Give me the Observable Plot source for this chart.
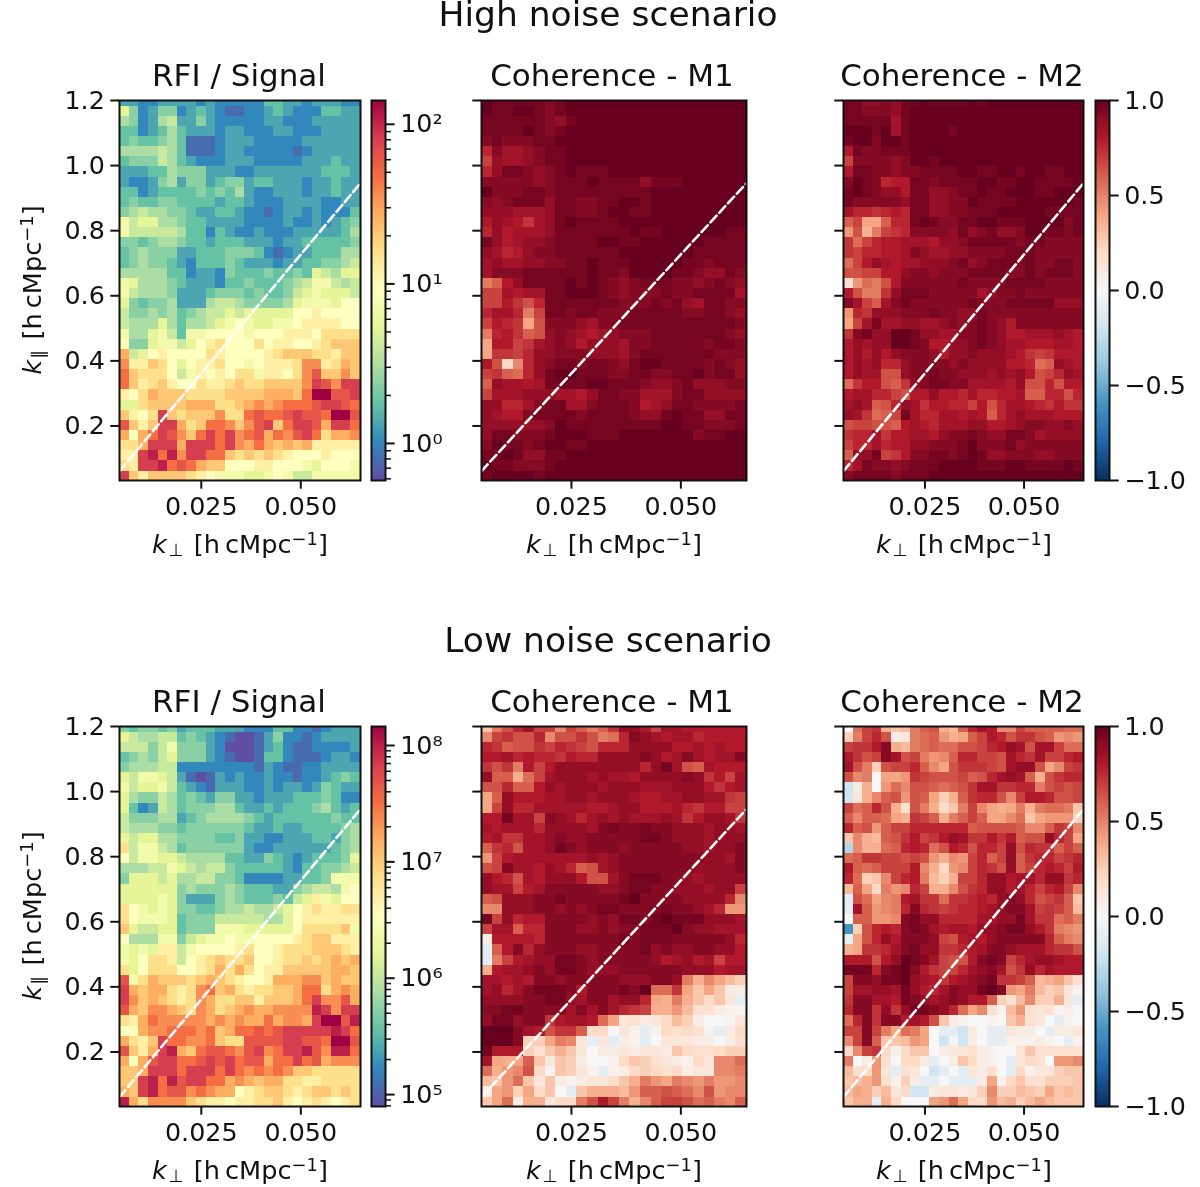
<!DOCTYPE html>
<html><head><meta charset="utf-8">
<style>
html,body{margin:0;padding:0;background:#fff;}
#page{position:relative;width:1200px;height:1187px;overflow:hidden;font-family:"DejaVu Sans",sans-serif;color:#111;filter:blur(0.65px);}
#page svg{position:absolute;overflow:visible;background:transparent;}
.t{position:absolute;white-space:nowrap;line-height:.85;}
.t sub{font-size:.68em;vertical-align:-.2em;line-height:0;margin-left:.08em;margin-right:.12em;}
.t sup{font-size:.7em;vertical-align:.45em;line-height:0;}
</style>
<script src="https://cdn.jsdelivr.net/npm/d3@7"></script>
<script src="https://cdn.jsdelivr.net/npm/@observablehq/plot@0.6"></script>
</head><body><div id="page"></div>
<script>
// Cell levels, rows listed top to bottom, 25 columns each.
// RFI panels: a..u = position along the log colour range (a = bottom, u = top).
const rfiHigh = [
"ddccd dddcd ccccc eeddc dddcc","ifcdf fcded cbbcc dedcc ceedd","gfcdg hddfd ccccc ddccc ddddd","eecde geddd cddcc cddcc cdddd",
"efeef gebbb cdddc ccccd ddddd","ggggh gebbb cddcc cccbc ddddd","efffh gedcc cdddc ccccd ddedd","dddee gfffd ddccd ddddd deeed",
"dccdf gdffd effde edddc ddedd","eecde eeefe fegdc cdddc ddedd","efeef feeee deedc ccddd dccdd","fghgg ffedd eedcc bcddc dccce",
"jhiig gfeed dddcc ccdcc dcdef","jhhhh hgeec edccd cccdd dddeg","ffefg gfeed eeedd dcdde eeeef","efgff fddee efffe cbcdd eeegg",
"efgff edcee efedd dcdde effgh","ggggg eecdd cfeee feefe ihgii","jiggg feddd ceefe eefgh jjhgh","jhggg fddde fffef eefhi jiiih",
"ifeff gdddg hhgff ffgij jjikk","hffgf gefgh hihii iiikk lkkkk","hgggi geggh ijkji ijjkl lllkk","jggij hejjk kkkjk kklll kmmmm",
"kffij jhikl mkkkm kllkk lmnnn","ohikl kkkkm lkkkk lmnnn mmlnn","pllnm kikll mkkjk lllmp plmon","qnmmm khjlk lkmmj llkmp rnnpn",
"qnlmn lkkml lmnmm nnnnp srpss","lkmon nnmmm mnnnn ooonq uurrs","iimnn nnooo mmnop opqqq rssrq","nlkms nmnnn pmmqr qqrsr rquur",
"rnlns somnq qpnpr snqss rossq","okoqs rpnqs qspqr oqprs qmoop","mmoss sosss qspoq onono lllll","llstq tpssq qnmnm nmlkk klkkk",
"mlsst qrqon nkkkl lkkkj ikkkj","snlnn nnmlk jjjii jkjhh jjjjj"];
const rfiLow = [
"feffe fdeee dddcc ceecc bcddd","ihggh hefed cbaab dfccb cdddd","hhhfh jfffd caaab decbb ccccd","efgfh ifffd cbaab eecbb bcddc",
"fgggh hcccc ccccb dcbbc cdddd","ihjji hdbab dcdcc dccbc cdefe","jhiij hedcb dddcc dcddc dfedd","igffh gefed ffddc dddee efecc",
"iecdh gefff ggedd edeee fgede","hfffg gdefg gggfe deeee eefee","hgggf fefff fffed dedde eeefg","ihiig gffff eefdd ccddd eedfg",
"mhjjh gefff fffdc cdddd ddefg","khjji ihggg geedd fedcd eeefi","ggghh jihgh hfeee eedce effgh","fiiih igghh ffecc ccdde efjjj",
"iiiii ifgff fgfee eddfg hhgjk","iiiij ifddd fgfee efehi ljikk","mkjij iffee fgghg ghikl mllmm","mkjjj iefff hhhhh ggikl lllll",
"nihhi iefff jjjii iiikm mmmnj","kgggj jfhij jkjjk kkklm nnlll","jijil lhjkk kklmk klmmm nnnml","jikmm lhklm nmmnk klmmn mnono",
"mikmm mkklm omomk llnnn nnoon","rjmon nnmno nmlkk looop pnonn","sonoo mlmpq nomlm mnnoq qmopo","spnon mlmpo mmnnl nnnoq sppro",
"ronpp onmpo mnopo opppp tspss","mloqp ppppo popoo qoppo suurt","kkopp qqqpq noqqr qrsss sstsq","omlns qqppq nmmrr rrssr rquur",
"rnlos tonqr rqprs pqsst rpttq","okors sqqrs rsqrr oqqsq roppp","nnoss sqsss qsqpq pqpnn mmmmm","nnstq trssq qopon oomml lmmmm",
"onstq rrpqp ooklm nnmlm nnmnm","tompp ppnml lkllm mnlkl mlklm"];
// Coherence panels: a..z = 1.00 down to 0.00 in steps of 0.04, digits 1..9 = -0.1 .. -0.9.
const m1High = [
"abbbb bcbaa aaaaa aaaaa aaaaa","abbaa bcbaa aaaaa aaaaa aaaaa","bbbbb bcdba aaaaa aaaaa aaaaa","bbbba bcbaa aaaaa aaaaa aaaaa",
"cbccc bbaaa aaaaa aaaaa aaaaa","gceed cbbaa aaaaa aaaaa aaaaa","ideed cbbaa aaaaa aaaaa aaaaa","gdbbc dcbab bbaaa aaaaa aaaaa",
"ccccc dcbbb abbbb dbbba aaaaa","acccb bcbbb bbbbb baaaa aaaaa","cdcbb bdbbc cbbaa baaaa aaaaa","dddee edbbc cbaab baaaa aaaaa",
"fdefh edbab bbbaa aaaaa aaaaa","gdfee edbbb bbbba bbaaa aaabb","bdfed dcbbb baabb aaaaa abbbb","degfd ccbbb bbbaa aaaaa bbbbb",
"edeed dccbb abbba aaaab bcbbb","ecccb bbbbb abbca aaabb cddbc","mkfdb bbbab abcdc bbbcc dcbcd","iiefe ebbaa abcdc ccbcc bbbbe",
"iifhj gbbbb bbbcc cbcbd ebbcc","geegm ibbcb bcccb bbbbc cbbcd","ifghp jcccd eccbb bbbbb bbbbc","mgfhk jdcde fedcc cbbbb bbbcd",
"pffih edcdf dddec cbbbb bcbbc","phhig ddccc dddec bbbbb bbccc","fjung dcbbc bbcdb aabbb bcbcd","ihklg dbaab bbccb bccbb acbbd",
"kdeef ebbbb aabbb cddcb dddcc","ieeed ddeef dbbcc eeecb bdddd","ddgge cbbee cbbbc fedbb ccccb","deffc bbbbc bbbbc ddbab bddbb",
"ddddd dcabb bbbbb bbaab bcccb","dbbcc cbaaa bbbaa aaaaa cbbaa","cabbc baabb aaaaa aaaaa aaaaa","bbabd dbbaa aaaaa aaaaa aaaaa",
"abbcc cbaaa aaaaa aaaaa aaaaa","baaaa baaaa aaaaa aaaaa aaaaa"];
const m2High = [
"bbddc dbbab bbbab aaaaa aaaaa","bbccc dbaaa aaaaa aaaaa aaaaa","bbbbb ebaaa aaaaa aaaaa aaaaa","aaaba ebaaa abaaa aaaaa aaaaa",
"baaca abaaa aaaaa aaaaa aaaaa","fbccb bbaaa aaaaa aaaaa aaaaa","icccc dcaab aaaaa aaaaa aaaaa","fbbcc dccbb bbaab baaba abbaa",
"cabcg ffbbc bbbba abbaa bbbba","babcd dfbbd dcbba bbaaa bbaaa","bcccc cdbbd dccab bbbaa aaaab","egghg fgbbd dccbb baaaa abbbb",
"kippk ggbab ccbba abbba aaacb","ojqmi hgccc cdbdc bddca abbcb","hligf feeef ddcbb bbbcb bcccc","higgf fecde eddcc ccbbb ccccc",
"lifde feedd dcbdc bbbcb ccbbc","jjiif fdccd cccbb bbccb cbbbc","volmj fcccc ccbcc ccbbb bcccc","fjmmh dbbbc cccce dccbc ccccc",
"ceike cbccc cccbc ccbbb bbddd","oghdd dcccb ccddb ccccc ccccc","piebe eddee dcdcb cdfcc ccccc","hcbdd aabdd eeccb cdffe eedef",
"fdedd aabcf fddcb cdeef ffeef","fdfdf dcccd fddcd ddefh ihfff","fdedg gdccc cdcdd ddffg lkdef","fdeej jdccb ccddd ededf jigde",
"lhffj khdcb bccee eefdj jgjff","feegg ijffd ffgeg gffek kggjg","edekj gdehf fggif jgeef ghfhh","dehlk ibegg eefef kgede eefff",
"jiijj kfefg eeedd ffedc cddcd","hggeh ffeef dccbc ddbbc edddd","iggeg ffddc ccbac ccbdc ccccc","kddbi hfccb bcbab ddccc ddccc",
"gebcc dcbbb aaaab bbaab bbbab","cbbbb cbbba aaaaa aaaaa aaaaa"];
const m1Low = [
"smjge iinik mkhdd fieef fffff","nihjj gnjjh jmlgc defee gffff","ghkjj highi jgggd dddff efeff","ffegf gghfg gdddd cdfec efeec",
"hjhmf ifddd ddddd gdbej kefff","dkkql ieddd edeef ddddc dhfie","jjgkk fdedd deddd eeedd dfhfe","pkdff feedd eddde ffeed deehi",
"pidgg eeeee ffedd fffeg hffii","ffbee icdeg edede eedeh fddeh","efeee gdddd ecbcc bccdd dedde","fehhe edcdd ccccc bbcdd deddd",
"khgje edbcd cccdc ccccd deddc","oifee eeeee dedcc ccccc cddec","jicee fdegk jedcc ccccc ddddc","dfgje fdddf jjecb bbccd edddd",
"deeif ecccc cddcb bccdd deddi","kjddd ccbcc cccba ccccd dddgn","nnddd ccdcd cbbcc ccbcc degoo","bidgf fcccc dcdbb cbabb bddde",
"ieekg gcccd dcdcc bbbac ddeee","xffff gcccc cccbc bbbcc cccdg","1kfcg dcccd dcccc bdcdd ccddf","1mife ddbbc dcccc cdfed feiff",
"qfeed cdbbc dddcc ccccd ddfee","eefef ccdcc cccdd dccdm qnprt","edgec bbbcf cccbc allhp spsxx","ddddc cbbde ccedd gpqmq susw1",
"ccbbc cccec ecegh iqqor vvxyy","dbbdc chfee flpwv xwurt xzzyw","aaace fjhhk uuzwy 1yuvu vy1xu","aaact tpmnw 1w1xy 1zwww xxzxv",
"bffft vsqsw zxxwx wwxsu vvutt","epqpk swstx zzyus tvwxy uwnnl","lqonj uystw y1yxu tuvux wwnnm","rsols wsxyx wwvsq mopmn omoon",
"xpotp usz1s qqqro kkjkl njonn","splxq qwuum jfimq nkiij lkmnk"];
const m2Low = [
"zlihq srmkj qrkge fnnik kkkll","tmigj xwmlk oqpki fgjhh jkono","ihhfc qrmlk lljji gfdej eeill","fhjic ejimo nkggi ijegh eiigf",
"ejmtj iigkn pjhhh ijedd jpnih","jnmzp pohij jjikj gedek qjhgg","2xqzo lnjjk lkjhe ehhgg mjiji","2wqnk jojkp tqkhg gjnif fgjji",
"ilkgj qvjmq usmin pqpmq mllms","knkkl pqhik qmkik ppnls pooot","gkjok iiggg gggkj jjjkn nkhin","snqrk jhfih fdehh fhfkj jdgip",
"3nqql kgfgl jfgjg gidjg hhkik","lkhhi ijijo qnoig kidkh ggihg","fklki iifnq uonig hjdki gfgif","gltsn igfmr tqiig ddfee gddhg",
"rkpum ongiq qnjhg ddfeg igfin","1jlpn mfehh lhhgf gdcdg jihks","1ekon mgcgh ihggf edcce ihikr","zkkoo ncbdd gggge eddbe hhlkm","6tjgf gcbce feefd dcbbd fhmno","1pjgd fcccd ijfef dcccc cgkmn",
"qphhg ecbdd hhgfe ccdee eghhj","fffjf dabce ijjfc bcige ddeff","bbbgc bacfh iiged cejhd gefff","iccdb badef hfedc bhhik rqpsv",
"ieedd ebdfg ecddb acopm rtswy","hccee fbcde dcdff ktvrn ttqw1","gcchd hdbbc dglpn vyrov wvyxz","lgchc cfefj sxyzz yzsqv wz1yz",
"iicim plmpz 112xz 11wxx z1xxw","nicks sropz 2y2xz 11yyy xyz1y","unihu yussz xwwvx yzzws vvvvv","mzxov zuux1 zxsux yz1wu vzoon",
"rvuow 1vwz2 1z1wx vz1uy wwtss","srqov ytx11 z111x pyusv vttts","rpqtr wu22x wwxwt nttrs tpsrs","sqq1q uzzzp olpuu orqtr prsss"];

const xTicks = [0.025, 0.05];
const yTicks = [0.2, 0.4, 0.6, 0.8, 1.0, 1.2];
const coherenceTicks = [-1, -0.5, 0, 0.5, 1];
const spectral = ["#5e4fa2","#3288bd","#66c2a5","#abdda4","#e6f598","#ffffbf","#fee08b","#fdae61","#f46d43","#d53e4f","#9e0142"];
const rdbu = ["#053061","#2166ac","#4393c3","#92c5de","#d1e5f0","#f7f7f7","#fddbc7","#f4a582","#d6604d","#b2182b","#67001f"];
const xDomain = [0.00445, 0.0650];
const yDomain = [0.0324, 1.2];
const horizonY = [0.0615, 0.946];
const cellW = (xDomain[1] - xDomain[0]) / 25;
const cellH = 0.03115;
const lowestEdge = 0.0615;
const rangeHigh = [0.586, 141];
const rangeLow = [7.9e4, 1.456e8];
const page = document.getElementById("page");
const FONT = 25.4;

const rfiDecode = range => ch => range[0] * Math.pow(range[1] / range[0], (ch.charCodeAt(0) - 97) / 20);
const cohDecode = ch => (ch >= "0" && ch <= "9") ? -0.1 * (+ch) : 1 - 0.04 * (ch.charCodeAt(0) - 97);

function table(rows, decode) {
  const out = [];
  rows.forEach((row, r) => {
    let s = row.replace(/ /g, "");
    while (s.length < 25) s += s[s.length - 1];
    s = s.slice(0, 25);
    [...s].forEach((ch, c) => out.push({
      x1: xDomain[0] + c * cellW, x2: xDomain[0] + (c + 1) * cellW,
      y1: lowestEdge + (36 - r) * cellH, y2: lowestEdge + (37 - r) * cellH,
      v: decode(ch)
    }));
  });
  return out;
}
function colorOpts(range, log) {
  return log
    ? {type: "log", domain: range, interpolate: d3.piecewise(d3.interpolateRgb, spectral)}
    : {type: "linear", domain: [-1, 1], interpolate: d3.piecewise(d3.interpolateRgb, rdbu)};
}
function place(svg, left, top) {
  svg.style.left = left + "px"; svg.style.top = top + "px";
  page.appendChild(svg);
}
function panel({L, R, T, rows, decode, color, labelY}) {
  const ml = 70, mr = 10, mt = 8, mb = 50, H = 380;
  const svg = Plot.plot({
    width: ml + (R - L) + mr, height: mt + H + mb,
    marginLeft: ml, marginRight: mr, marginTop: mt, marginBottom: mb,
    style: {fontFamily: "DejaVu Sans", fontSize: FONT + "px", color: "#111", background: "transparent"},
    x: {domain: xDomain}, y: {domain: yDomain},
    color,
    marks: [
      Plot.rect(table(rows, decode), {x1: "x1", x2: "x2", y1: "y1", y2: "y2", fill: "v", clip: true, shapeRendering: "crispEdges"}),
      Plot.line([{x: xDomain[0], y: horizonY[0]}, {x: xDomain[1], y: horizonY[1]}], {x: "x", y: "y", stroke: "white", strokeWidth: 2.6, strokeDasharray: "9,4"}),
      Plot.frame({stroke: "#111", strokeWidth: 2}),
      Plot.axisX(xTicks, {tickSize: 8.7, tickPadding: 8, strokeWidth: 2, stroke: "#111", fontSize: FONT, tickFormat: d3.format(".3f"), label: null}),
      Plot.axisY(yTicks, {tickSize: 8.7, tickPadding: 6, strokeWidth: 2, stroke: "#111", fontSize: FONT, tickFormat: labelY ? d3.format(".1f") : () => "", label: null})
    ]
  });
  place(svg, L - ml, T - mt);
}
const sup = {"0":"⁰","1":"¹","2":"²","3":"³","4":"⁴","5":"⁵","6":"⁶","7":"⁷","8":"⁸","9":"⁹"};
function colorbar({L, R, T, range, log, ticks, minor}) {
  const ml = 2, mr = 80, mt = 8, mb = 8, H = 380;
  const steps = d3.range(256);
  const at = t => log ? range[0] * Math.pow(range[1] / range[0], t) : range[0] + (range[1] - range[0]) * t;
  const marks = [
    Plot.rect(steps, {x1: () => 0, x2: () => 1, y1: i => at(i / 256), y2: i => at((i + 1) / 256), fill: i => at((i + .5) / 256), shapeRendering: "crispEdges"}),
    Plot.frame({stroke: "#111", strokeWidth: 2}),
    Plot.axisY(ticks, {anchor: "right", tickSize: 8.7, tickPadding: 6, strokeWidth: 2, stroke: "#111", fontSize: FONT, label: null,
      tickFormat: log ? d => "10" + [...String(Math.round(Math.log10(d)))].map(c => sup[c]).join("") : d => d3.format(".1f")(d).replace("-", "−")})
  ];
  if (minor) marks.push(Plot.axisY(minor, {anchor: "right", tickSize: 5, strokeWidth: 1.5, stroke: "#111", tickFormat: () => "", label: null}));
  const svg = Plot.plot({
    width: ml + (R - L) + mr, height: mt + H + mb,
    marginLeft: ml, marginRight: mr, marginTop: mt, marginBottom: mb,
    style: {fontFamily: "DejaVu Sans", fontSize: FONT + "px", color: "#111", background: "transparent"},
    x: {domain: [0, 1], axis: null},
    y: log ? {type: "log", domain: range} : {domain: range},
    color: colorOpts(log ? range : [-1, 1], log),
    marks
  });
  place(svg, L - ml, T - mt);
}
function text(html, x, y, size, rotate) {
  const d = document.createElement("div");
  d.className = "t";
  d.innerHTML = html;
  d.style.left = x + "px"; d.style.top = y + "px"; d.style.fontSize = size + "px";
  d.style.transform = "translate(-50%,-50%)" + (rotate ? " rotate(-90deg)" : "");
  page.appendChild(d);
}
function minorTicks(lo, hi) {
  const out = [];
  for (let e = Math.floor(Math.log10(lo)); e <= Math.ceil(Math.log10(hi)); e++)
    for (let m = 2; m < 10; m++) { const v = m * Math.pow(10, e); if (v >= lo && v <= hi) out.push(v); }
  return out;
}
function row(T, rfi, m1, m2, range, decades, heading) {
  panel({L: 118.5, R: 359.5, T, rows: rfi, decode: rfiDecode(range), color: colorOpts(range, true), labelY: true});
  panel({L: 480.5, R: 745.5, T, rows: m1, decode: cohDecode, color: colorOpts(null, false), labelY: false});
  panel({L: 842.8, R: 1082.8, T, rows: m2, decode: cohDecode, color: colorOpts(null, false), labelY: false});
  colorbar({L: 370.5, R: 384.5, T, range, log: true, ticks: decades, minor: minorTicks(range[0], range[1])});
  colorbar({L: 1095, R: 1109, T, range: [-1, 1], log: false, ticks: coherenceTicks});
  text(heading, 608, T - 85, 34.5);
  text("RFI / Signal", 239, T - 25, 31);
  text("Coherence - M1", 612, T - 25, 31);
  text("Coherence - M2", 962, T - 25, 31);
  const xl = '<i>k</i><sub>⊥</sub> [h\u2009cMpc<sup>−1</sup>]';
  text(xl, 240, T + 445, 25.6);
  text(xl, 614, T + 445, 25.6);
  text(xl, 964, T + 445, 25.6);
  text('<i>k</i><sub>∥</sub> [h\u2009cMpc<sup>−1</sup>]', 33, T + 190, 25.6, true);
}
row(100, rfiHigh, m1High, m2High, rangeHigh, [1, 10, 100], "High noise scenario");
row(726, rfiLow, m1Low, m2Low, rangeLow, [1e5, 1e6, 1e7, 1e8], "Low noise scenario");
</script></body></html>
